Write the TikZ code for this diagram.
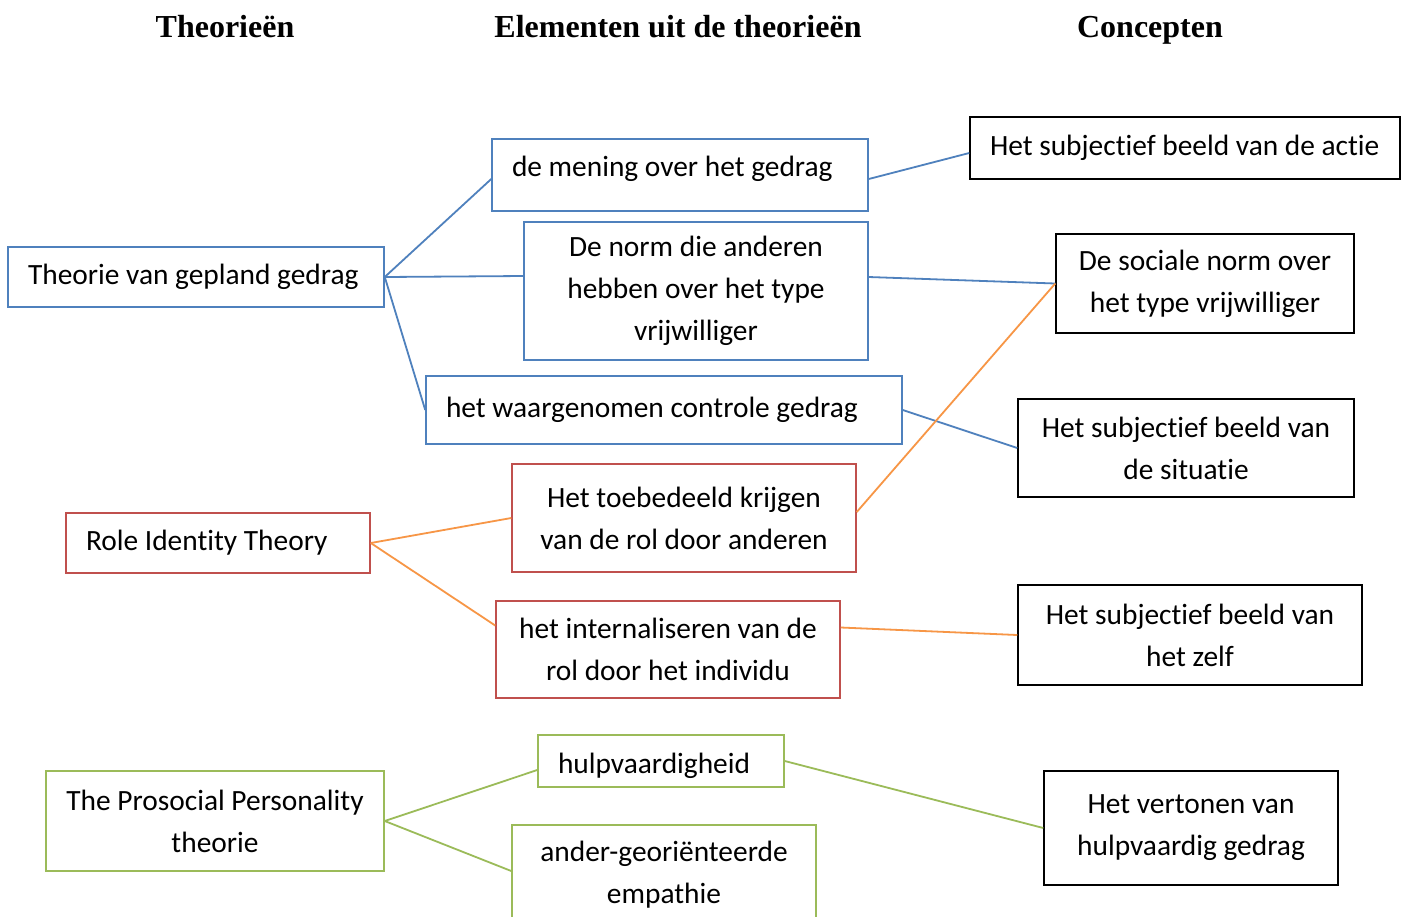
\documentclass[tikz,border=0pt]{standalone}
\usepackage{fontspec}
\setmainfont{Carlito}[RawFeature=-liga]
\newfontfamily\headfont{Liberation Serif}
\newcommand\lbx[2]{\makebox[#1][l]{#2}}
\definecolor{cblue}{HTML}{4F81BD}
\definecolor{cred}{HTML}{C0504D}
\definecolor{corange}{HTML}{F79646}
\definecolor{cgreen}{HTML}{9BBB59}
\tikzset{
  box/.style={draw, line width=0.75pt, align=center, inner sep=0pt, anchor=center,
    font=\fontsize{14.7}{21}\selectfont},
  lpad/.style={inner xsep=10pt},
  bbox/.style={box, draw=cblue},
  rbox/.style={box, draw=cred},
  gbox/.style={box, draw=cgreen},
  kbox/.style={box, draw=black},
  head/.style={font=\headfont\bfseries\fontsize{16}{18}\selectfont, anchor=base},
  bline/.style={draw=cblue, line width=0.9pt},
  oline/.style={draw=corange, line width=0.9pt},
  gline/.style={draw=cgreen, line width=0.9pt},
}
\begin{document}
\begin{tikzpicture}[x=0.5pt,y=-0.5pt]
\clip (0,0) rectangle (1406,916);
\fill[white] (0,0) rectangle (1406,916);
% headers
\node[head] (h1) at (225,37) {Theorieën};
\node[head] (h2) at (678,37) {Elementen uit de theorieën};
\node[head] (h3) at (1150,37) {Concepten};
% theories
\node[bbox, lpad, minimum height=30pt] (T1) at (196,277) {\lbx{168pt}{Theorie van gepland gedrag}};
\node[rbox, lpad, minimum height=30pt] (T2) at (218,543) {\lbx{132pt}{Role Identity Theory}};
\node[gbox, minimum width=169pt, minimum height=50pt] (T3) at (215,821) {The Prosocial Personality\\theorie};
% elements
\node[bbox, lpad, minimum height=36pt, text depth=8.7pt] (E1) at (680,175) {\lbx{168pt}{de mening over het gedrag}};
\node[bbox, minimum width=172pt, minimum height=69pt] (E2) at (696,291) {De norm die anderen\\hebben over het type\\vrijwilliger};
\node[bbox, lpad, minimum height=34pt] (E3) at (664,410) {\lbx{218pt}{het waargenomen controle gedrag}};
\node[rbox, minimum width=172pt, minimum height=54pt] (E4) at (684,518) {Het toebedeeld krijgen\\van de rol door anderen};
\node[rbox, minimum width=172pt, minimum height=48.5pt] (E5) at (668,649.5) {het internaliseren van de\\rol door het individu};
\node[gbox, lpad, minimum height=26pt, text height=15pt] (E6) at (661,761) {\lbx{103pt}{hulpvaardigheid}};
\node[gbox, minimum width=152pt, minimum height=50pt] (E7) at (664,875) {ander-georiënteerde\\empathie};
% concepts
\node[kbox, lpad, minimum height=31pt] (C1) at (1185,148) {\lbx{195pt}{Het subjectief beeld van de actie}};
\node[kbox, minimum width=149pt, minimum height=49.5pt] (C2) at (1205,283.5) {De sociale norm over\\het type vrijwilliger};
\node[kbox, minimum width=168pt, minimum height=49pt] (C3) at (1186,448) {Het subjectief beeld van\\de situatie};
\node[kbox, minimum width=172pt, minimum height=50pt] (C4) at (1190,635) {Het subjectief beeld van\\het zelf};
\node[kbox, minimum width=147pt, minimum height=57pt] (C5) at (1191,828) {Het vertonen van\\hulpvaardig gedrag};
% blue connectors
\draw[bline] (T1.east) -- ([yshift=-2pt]E1.west);
\draw[bline] (T1.east) -- ([yshift=7.5pt]E2.west);
\draw[bline] (T1.east) -- (E3.west);
\draw[bline] ([yshift=-2pt]E1.east) -- ([yshift=-2.5pt]C1.west);
\draw[bline] ([yshift=7pt]E2.east) -- (C2.west);
\draw[bline] (E3.east) -- (C3.west);
% orange connectors
\draw[oline] (T2.east) -- (E4.west);
\draw[oline] (T2.east) -- ([yshift=12pt]E5.west);
\draw[oline] ([yshift=3pt]E4.east) -- (C2.west);
\draw[oline] ([yshift=11pt]E5.east) -- (C4.west);
% green connectors
\draw[gline] (T3.east) -- ([yshift=-4.5pt]E6.west);
\draw[gline] (T3.east) -- ([yshift=2pt]E7.west);
\draw[gline] (E6.east) -- (C5.west);
\end{tikzpicture}
\end{document}
